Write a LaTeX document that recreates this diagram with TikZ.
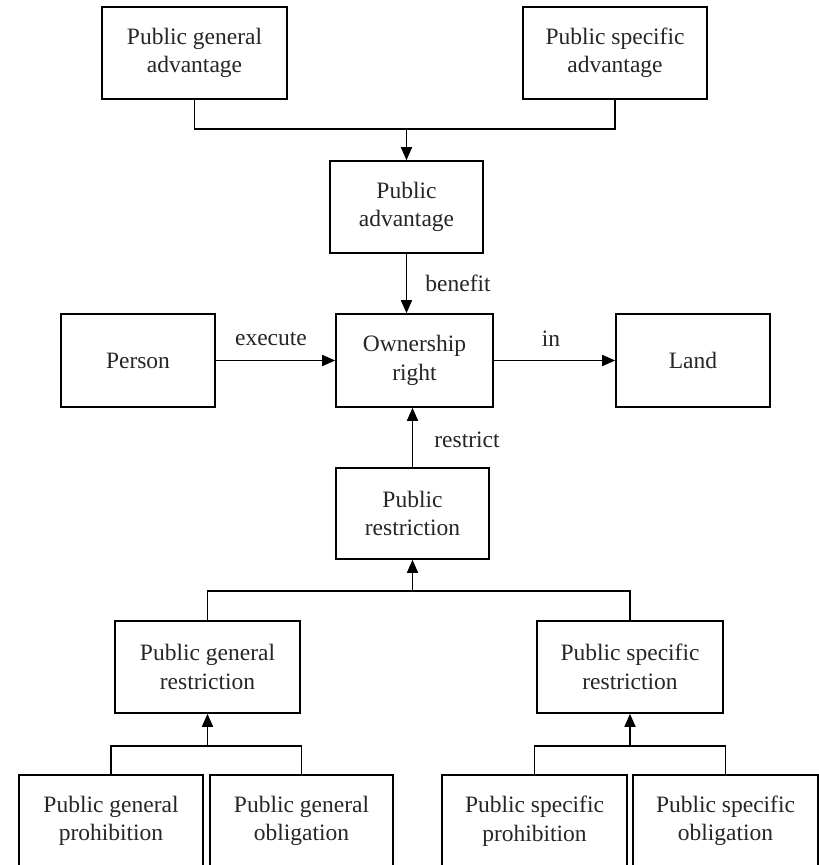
\documentclass[tikz,border=0pt]{standalone}
\usepackage{fontspec}
\setmainfont{Liberation Serif}
\usetikzlibrary{arrows.meta,calc}
\begin{document}
\begin{tikzpicture}[x=1pt,y=-1pt,
  every node/.style={font=\fontsize{23.5}{28.5}\selectfont, text=black!85},
  box/.style={draw, line width=1.6pt, align=center, inner sep=0pt, minimum height=92pt},
  lab/.style={inner sep=0pt},
  conn/.style={line width=1.6pt},
  arr/.style={line width=1.6pt, -{Triangle[length=13pt,width=11pt]}}]
\clip (0,0) rectangle (819,865);
\fill[white] (0,0) rectangle (819,865);
% top row
\node[box, minimum width=185pt] (pga) at (194.5,53) {Public general\\advantage};
\node[box, minimum width=184pt] (psa) at (615,53) {Public specific\\advantage};
\node[box, minimum width=153pt] (pa) at (406.5,207) {Public\\advantage};
% middle row
\node[box, minimum width=154pt, minimum height=93pt] (person) at (138,360.5) {Person};
\node[box, minimum width=157pt, minimum height=93pt] (own) at (414.5,360.5) {Ownership\\right};
\node[box, minimum width=154pt, minimum height=93pt] (land) at (693,360.5) {Land};
% restriction
\node[box, minimum width=153pt, minimum height=91pt] (pr) at (412.5,513.5) {Public\\restriction};
\node[box, minimum width=185pt] (pgr) at (207.5,667) {Public general\\restriction};
\node[box, minimum width=186pt] (psr) at (630,667) {Public specific\\restriction};
% bottom row
\node[box, minimum width=184pt] (pgp) at (111,821) {Public general\\prohibition};
\node[box, minimum width=183pt] (pgo) at (301.5,821) {Public general\\obligation};
\node[box, minimum width=185pt] (psp) at (534.5,821) {Public specific\\prohibition};
\node[box, minimum width=185pt] (pso) at (725.5,821) {Public specific\\obligation};
% junction coordinates
\coordinate (jtop) at (406.5,129);
\coordinate (jpr) at (412.5,591);
\coordinate (jgr) at (207.5,746);
\coordinate (jsr) at (630,746);
% top connectors
\draw[conn] (pga.south) |- (jtop) -| (psa.south);
\draw[arr] (jtop) -- (pa.north);
\draw[arr] (pa.south) -- (pa.south |- own.north);
\node[lab] (lbenefit) at (458,283) {benefit};
% middle connectors
\draw[arr] (person.east) -- (own.west);
\node[lab] (lexecute) at (271,339) {execute};
\draw[arr] (own.east) -- (land.west);
\node[lab] (lin) at (551,339) {in};
\draw[arr] (pr.north) -- (pr.north |- own.south);
\node[lab] (lrestrict) at (467,440) {restrict};
% restriction tree
\draw[conn] (pgr.north) |- (jpr) -| (psr.north);
\draw[arr] (jpr) -- (pr.south);
\draw[conn] (pgp.north) |- (jgr) -| (pgo.north);
\draw[arr] (jgr) -- (pgr.south);
\draw[conn] (psp.north) |- (jsr) -| (pso.north);
\draw[arr] (jsr) -- (psr.south);
\end{tikzpicture}
\end{document}
